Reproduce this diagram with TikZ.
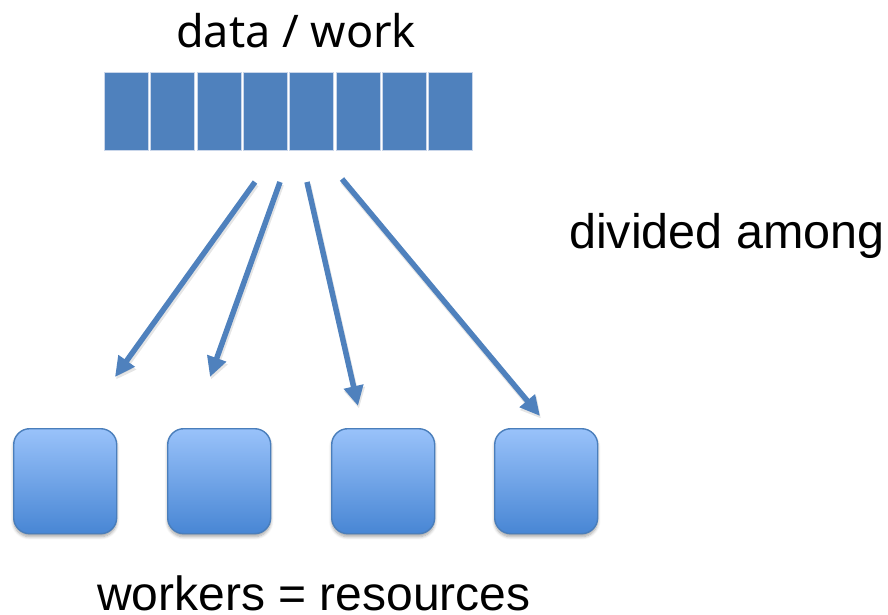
\documentclass[tikz,border=0pt]{standalone}
\usepackage{fontspec}
\setmainfont{Liberation Sans}
\newfontfamily\titlefont{Noto Sans}
\usetikzlibrary{arrows.meta,shadows.blur}

\definecolor{cellblue}{HTML}{4F81BD}
\definecolor{celledge}{HTML}{C9D6EA}
\definecolor{boxtop}{HTML}{99C2FA}
\definecolor{boxbot}{HTML}{4886D4}
\definecolor{boxedge}{HTML}{4A7EBB}
\definecolor{arrowblue}{HTML}{4F81BD}

\tikzset{
  cell/.style={fill=cellblue, draw=celledge, line width=0.8pt,
    minimum width=44pt, minimum height=78pt, inner sep=0pt, anchor=north west},
  worker/.style={draw=boxedge, line width=1.4pt, rounded corners=16pt,
    top color=boxtop, bottom color=boxbot,
    minimum width=103pt, minimum height=105pt, inner sep=0pt, anchor=north west,
    blur shadow={shadow xshift=0pt, shadow yshift=-3pt, shadow blur radius=3pt,
      shadow blur steps=6, shadow opacity=35}},
  flow/.style={draw=arrowblue, line width=5.5pt,
    -{Triangle[length=20pt,width=19pt]}},
  flowshade/.style={draw=black, opacity=0.10, line width=6pt,
    -{Triangle[length=20pt,width=20pt]}},
  label/.style={inner sep=0pt, anchor=base west}
}

\begin{document}
\begin{tikzpicture}[x=1pt,y=-1pt]
  \useasboundingbox (0,0) rectangle (888,615);

  % title above the bar of work items
  \node[label, font=\titlefont\fontsize{45}{54}\selectfont] (title) at (176,48) {data / work};

  % the bar: eight equal pieces of work
  \foreach \i in {1,...,8} {
    \node[cell] (c\i) at ({104+(\i-1)*46.3},72) {};
  }

  % start and end points of the distribution arrows
  \coordinate (s1) at (255,182);
  \coordinate (s2) at (280,182);
  \coordinate (s3) at (307,182);
  \coordinate (s4) at (342,179);
  \coordinate (t1) at (115,377);
  \coordinate (t2) at (210,377);
  \coordinate (t3) at (358,406);
  \coordinate (t4) at (540,416);

  % soft shadows under the arrows
  \foreach \k in {1,...,4} {
    \draw[flowshade, transform canvas={shift={(1pt,-2.5pt)}}] (s\k) -- (t\k);
  }
  \foreach \k in {1,...,4} {
    \draw[flow] (s\k) -- (t\k);
  }

  \node[label, font=\fontsize{48.5}{58}\selectfont] (div) at (569,248) {divided among};

  % the workers
  \node[worker] (w1) at (13,428) {};
  \node[worker] (w2) at (167,428) {};
  \node[worker] (w3) at (331,428) {};
  \node[worker] (w4) at (494,428) {};

  \node[label, font=\fontsize{48}{58}\selectfont] (res) at (97,610) {workers = resources};
\end{tikzpicture}
\end{document}
